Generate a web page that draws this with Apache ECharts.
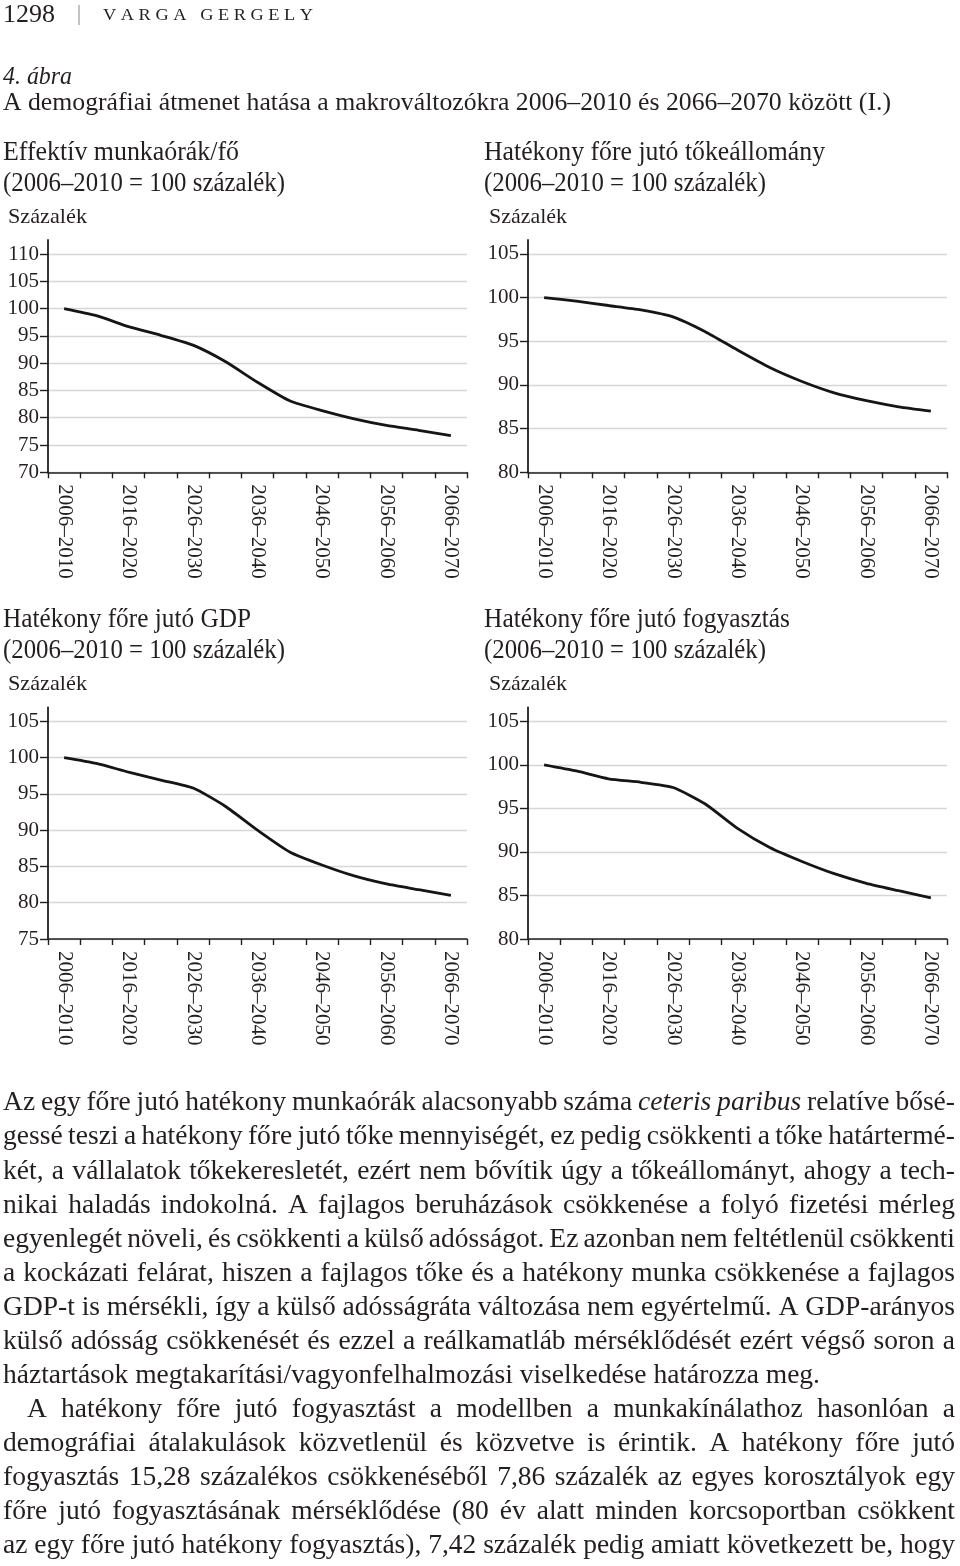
<!DOCTYPE html>
<html>
<head>
<meta charset="utf-8">
<script src="https://cdn.jsdelivr.net/npm/echarts@6.0.0/dist/echarts.min.js"></script>
<style>
html,body{margin:0;padding:0;background:#fff;}
#main{width:960px;height:1566px;}
</style>
</head>
<body>
<div id="main"></div>
<script>
// ---------- DATA ----------
const categories = ['2006–2010','2011–2015','2016–2020','2021–2025','2026–2030','2031–2035','2036–2040','2041–2045','2046–2050','2051–2055','2056–2060','2061–2065','2066–2070'];
const hoursPerCapita   = [100, 98.7, 96.7, 95.1, 93.3, 90.3, 86.5, 83.1, 81.3, 79.8, 78.6, 77.7, 76.7];
const capitalPerCapita = [100, 99.6, 99.1, 98.6, 97.8, 96.1, 94.0, 92.0, 90.4, 89.1, 88.2, 87.5, 87.0];
const gdpPerCapita     = [100, 99.2, 98.0, 96.9, 95.8, 93.3, 90.0, 87.0, 85.2, 83.7, 82.6, 81.8, 81.0];
const consPerCapita    = [100, 99.3, 98.4, 98.0, 97.4, 95.5, 92.7, 90.5, 88.9, 87.5, 86.4, 85.55, 84.72];

const ticksHours   = [70, 75, 80, 85, 90, 95, 100, 105, 110];
const ticksCapital = [80, 85, 90, 95, 100, 105];
const ticksGdp     = [75, 80, 85, 90, 95, 100, 105];
const ticksCons    = [80, 85, 90, 95, 100, 105];

const chartTitles = ['Effektív munkaórák/fő', 'Hatékony főre jutó tőkeállomány', 'Hatékony főre jutó GDP', 'Hatékony főre jutó fogyasztás'];
const baseNote = '(2006–2010 = 100 százalék)';
const unitLabel = 'Százalék';

const pageNumber = '1298';
const runningHead = 'V A R G A   G E R G E L Y';
const figureNo = '4. ábra';
const figureTitle = 'A demográfiai átmenet hatása a makrováltozókra 2006–2010 és 2066–2070 között (I.)';

const bodyLines = [
  'Az egy főre jutó hatékony munkaórák alacsonyabb száma *ceteris* *paribus* relatíve bősé-',
  'gessé teszi a hatékony főre jutó tőke mennyiségét, ez pedig csökkenti a tőke határtermé-',
  'két, a vállalatok tőkekeresletét, ezért nem bővítik úgy a tőkeállományt, ahogy a tech-',
  'nikai haladás indokolná. A fajlagos beruházások csökkenése a folyó fizetési mérleg',
  'egyenlegét növeli, és csökkenti a külső adósságot. Ez azonban nem feltétlenül csökkenti',
  'a kockázati felárat, hiszen a fajlagos tőke és a hatékony munka csökkenése a fajlagos',
  'GDP-t is mérsékli, így a külső adósságráta változása nem egyértelmű. A GDP-arányos',
  'külső adósság csökkenését és ezzel a reálkamatláb mérséklődését ezért végső soron a',
  'háztartások megtakarítási/vagyonfelhalmozási viselkedése határozza meg.',
  'A hatékony főre jutó fogyasztást a modellben a munkakínálathoz hasonlóan a',
  'demográfiai átalakulások közvetlenül és közvetve is érintik. A hatékony főre jutó',
  'fogyasztás 15,28 százalékos csökkenéséből 7,86 százalék az egyes korosztályok egy',
  'főre jutó fogyasztásának mérséklődése (80 év alatt minden korcsoportban csökkent',
  'az egy főre jutó hatékony fogyasztás), 7,42 százalék pedig amiatt következett be, hogy'
];
const paragraphEnds = [8];      // lines that are not justified
const paragraphStarts = [9];    // indented lines

// ---------- STYLE / LAYOUT ----------
const SERIF = '"Liberation Serif", "Times New Roman", serif';
const INK = '#231f20';
const GRID_COLOR = '#d6d6d6';

const layouts = [
  {grid:{left:48,  top:240,   width:419, height:232.3}, max:112.57, titleX:3,   titleY:153, titleW:236, noteW:282, unitW:79},
  {grid:{left:528, top:240,   width:419, height:232.3}, max:106.6,  titleX:484, titleY:153, titleW:341, noteW:282, unitW:78},
  {grid:{left:48,  top:707.3, width:419, height:231.7}, max:106.93, titleX:3,   titleY:620, titleW:248, noteW:282, unitW:79},
  {grid:{left:528, top:707.3, width:419, height:231.7}, max:106.61, titleX:484, titleY:620, titleW:306, noteW:282, unitW:78}
];
const seriesData = [hoursPerCapita, capitalPerCapita, gdpPerCapita, consPerCapita];
const tickSets = [ticksHours, ticksCapital, ticksGdp, ticksCons];

// ---------- TEXT HELPERS ----------
const mctx = document.createElement('canvas').getContext('2d');
function tw(str, size, italic) {
  mctx.font = (italic ? 'italic ' : '') + size + 'px ' + SERIF;
  return mctx.measureText(str).width;
}
function fitText(str, x, y, size, width, italic) {
  const w = tw(str, size, italic);
  return {
    type: 'text', x: x, y: y, scaleX: width / w, silent: true,
    style: {text: str, fontSize: size, fontFamily: SERIF, fontStyle: italic ? 'italic' : 'normal',
            fill: INK, align: 'left', verticalAlign: 'middle'}
  };
}

const graphics = [];
// running head
graphics.push(fitText(pageNumber, 3, 15, 26, 52));
graphics.push({type:'line', silent:true, shape:{x1:79, y1:5, x2:79, y2:25}, style:{stroke:'#888', lineWidth:1}});
graphics.push(fitText(runningHead, 103, 16, 17, 210));
// figure caption
graphics.push(fitText(figureNo, 3, 77, 25, 69, true));
graphics.push(fitText(figureTitle, 3, 103, 25, 888));
// chart headings
layouts.forEach((L, i) => {
  graphics.push(fitText(chartTitles[i], L.titleX, L.titleY, 27, L.titleW));
  graphics.push(fitText(baseNote, L.titleX, L.titleY + 31, 27, L.noteW));
  graphics.push(fitText(unitLabel, L.titleX + 5, L.titleY + 64, 22, L.unitW));
});

// body text, justified word by word
const BODY_SIZE = 28, BODY_LEFT = 3, BODY_RIGHT = 955, BODY_TOP = 1103, LEAD = 34.08;
const refLine = bodyLines[8];
const condense = (820 - BODY_LEFT) / tw(refLine, BODY_SIZE);
bodyLines.forEach((line, li) => {
  const words = line.split(' ').map(w => {
    const it = w.startsWith('*') && w.endsWith('*');
    const t = it ? w.slice(1, -1) : w;
    return {t: t, it: it, w: tw(t, BODY_SIZE, it)};
  });
  const indent = paragraphStarts.includes(li) ? 24 : 0;
  const x0 = BODY_LEFT + indent;
  const avail = BODY_RIGHT - x0;
  let c = condense;
  const spaceW = tw(' ', BODY_SIZE);
  let sumW = words.reduce((a, b) => a + b.w, 0);
  let gap = spaceW * c;
  const justify = !paragraphEnds.includes(li);
  if (sumW * c + gap * 0.6 * (words.length - 1) > avail) {
    c = (avail - gap * 0.6 * (words.length - 1)) / sumW;
  }
  if (justify && words.length > 1) gap = (avail - sumW * c) / (words.length - 1);
  let x = x0;
  const y = BODY_TOP + li * LEAD;
  words.forEach(wd => {
    graphics.push({
      type: 'text', x: x, y: y, scaleX: c, silent: true,
      style: {text: wd.t, fontSize: BODY_SIZE, fontFamily: SERIF, fontStyle: wd.it ? 'italic' : 'normal',
              fill: INK, align: 'left', verticalAlign: 'middle'}
    });
    x += wd.w * c + gap;
  });
});

// ---------- CHARTS ----------
const grids = [], xAxes = [], yAxes = [], series = [];
layouts.forEach((L, i) => {
  grids.push(Object.assign({containLabel: false}, L.grid));
  xAxes.push({
    gridIndex: i, type: 'category', data: categories, boundaryGap: true,
    axisLine: {show: true, lineStyle: {color: INK, width: 1.6}},
    axisTick: {show: true, interval: 0, length: 6, inside: false, lineStyle: {color: INK, width: 1.4}},
    axisLabel: {interval: 1, rotate: -90, margin: 12, fontSize: 21, fontFamily: SERIF, color: INK},
    splitLine: {show: false}
  });
  yAxes.push({
    gridIndex: i, type: 'value', min: tickSets[i][0], max: L.max, interval: 5,
    axisLine: {show: true, lineStyle: {color: INK, width: 1.8}},
    axisTick: {show: true, length: 8, customValues: tickSets[i], lineStyle: {color: INK, width: 1.4}},
    axisLabel: {customValues: tickSets[i], fontSize: 21, fontFamily: SERIF, color: INK, margin: 9},
    splitLine: {show: true, lineStyle: {color: GRID_COLOR, width: 1.3}}
  });
  series.push({
    type: 'line', xAxisIndex: i, yAxisIndex: i, data: seriesData[i],
    symbol: 'none', smooth: 0.2, silent: true,
    lineStyle: {color: '#151515', width: 2.8}
  });
});

const chart = echarts.init(document.getElementById('main'), null, {renderer: 'canvas'});
chart.setOption({
  backgroundColor: '#ffffff',
  animation: false,
  grid: grids, xAxis: xAxes, yAxis: yAxes, series: series,
  graphic: graphics
});
</script>
</body>
</html>
